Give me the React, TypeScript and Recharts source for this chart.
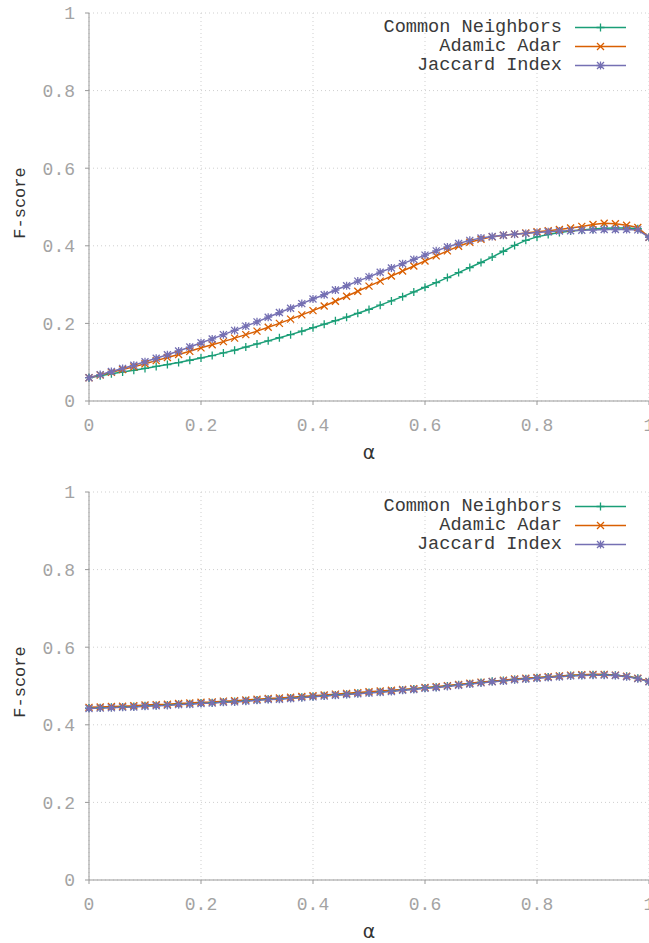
import { LineChart, Line, XAxis, YAxis, CartesianGrid, Legend } from 'recharts'

const ALPHA = [
  0, 0.02, 0.04, 0.06, 0.08, 0.1, 0.12, 0.14, 0.16, 0.18,
  0.2, 0.22, 0.24, 0.26, 0.28, 0.3, 0.32, 0.34, 0.36, 0.38,
  0.4, 0.42, 0.44, 0.46, 0.48, 0.5, 0.52, 0.54, 0.56, 0.58,
  0.6, 0.62, 0.64, 0.66, 0.68, 0.7, 0.72, 0.74, 0.76, 0.78,
  0.8, 0.82, 0.84, 0.86, 0.88, 0.9, 0.92, 0.94, 0.96, 0.98,
  1,
]

const TOP_CN = [
  0.060, 0.065, 0.070, 0.075, 0.079, 0.084, 0.089, 0.094, 0.099, 0.105,
  0.111, 0.117, 0.124, 0.131, 0.139, 0.147, 0.155, 0.163, 0.171, 0.180,
  0.189, 0.198, 0.207, 0.216, 0.226, 0.236, 0.247, 0.258, 0.269, 0.281,
  0.293, 0.305, 0.318, 0.331, 0.344, 0.357, 0.371, 0.386, 0.401, 0.414,
  0.423, 0.429, 0.434, 0.438, 0.441, 0.443, 0.445, 0.446, 0.446, 0.444,
  0.422,
]
const TOP_AA = [
  0.060, 0.067, 0.074, 0.081, 0.088, 0.096, 0.104, 0.112, 0.120, 0.128,
  0.137, 0.145, 0.153, 0.162, 0.171, 0.180, 0.190, 0.200, 0.211, 0.222,
  0.233, 0.245, 0.257, 0.270, 0.283, 0.296, 0.309, 0.322, 0.335, 0.348,
  0.361, 0.374, 0.387, 0.399, 0.409, 0.417, 0.423, 0.427, 0.430, 0.433,
  0.436, 0.439, 0.442, 0.446, 0.450, 0.455, 0.458, 0.457, 0.453, 0.447,
  0.422,
]
const TOP_JI = [
  0.060, 0.068, 0.076, 0.084, 0.092, 0.101, 0.110, 0.119, 0.129, 0.139,
  0.150, 0.160, 0.171, 0.182, 0.193, 0.204, 0.216, 0.228, 0.239, 0.251,
  0.263, 0.274, 0.286, 0.297, 0.309, 0.320, 0.332, 0.343, 0.354, 0.365,
  0.376, 0.387, 0.397, 0.406, 0.414, 0.420, 0.424, 0.427, 0.430, 0.432,
  0.434, 0.436, 0.438, 0.439, 0.440, 0.441, 0.442, 0.442, 0.442, 0.441,
  0.422,
]

const BOT_CN = [
  0.443, 0.444, 0.445, 0.446, 0.447, 0.449, 0.450, 0.451, 0.453, 0.454,
  0.456, 0.457, 0.459, 0.460, 0.462, 0.464, 0.466, 0.467, 0.469, 0.471,
  0.473, 0.475, 0.477, 0.479, 0.481, 0.483, 0.485, 0.487, 0.490, 0.492,
  0.495, 0.497, 0.500, 0.503, 0.506, 0.509, 0.512, 0.514, 0.517, 0.519,
  0.521, 0.523, 0.525, 0.527, 0.528, 0.529, 0.529, 0.528, 0.525, 0.520,
  0.511,
]
const BOT_AA = [
  0.445, 0.446, 0.447, 0.448, 0.449, 0.451, 0.452, 0.453, 0.455, 0.456,
  0.458, 0.459, 0.461, 0.462, 0.464, 0.466, 0.468, 0.469, 0.471, 0.473,
  0.475, 0.477, 0.479, 0.481, 0.483, 0.485, 0.487, 0.489, 0.491, 0.493,
  0.496, 0.498, 0.501, 0.504, 0.507, 0.510, 0.512, 0.515, 0.518, 0.520,
  0.522, 0.524, 0.526, 0.528, 0.529, 0.530, 0.530, 0.528, 0.525, 0.520,
  0.512,
]
const BOT_JI = [
  0.442, 0.443, 0.444, 0.445, 0.446, 0.448, 0.449, 0.450, 0.452, 0.453,
  0.455, 0.456, 0.458, 0.459, 0.461, 0.463, 0.465, 0.466, 0.468, 0.470,
  0.472, 0.474, 0.476, 0.478, 0.480, 0.482, 0.484, 0.486, 0.489, 0.491,
  0.494, 0.496, 0.499, 0.502, 0.505, 0.508, 0.511, 0.513, 0.516, 0.518,
  0.520, 0.522, 0.524, 0.526, 0.527, 0.528, 0.528, 0.527, 0.524, 0.519,
  0.511,
]

const X_TICKS = [0, 0.2, 0.4, 0.6, 0.8, 1]
const Y_TICKS = [0, 0.2, 0.4, 0.6, 0.8, 1]

const SERIES = [
  { key: 'cn', name: 'Common Neighbors', color: '#1b9e77', marker: 'plus' },
  { key: 'aa', name: 'Adamic Adar', color: '#d95f02', marker: 'cross' },
  { key: 'ji', name: 'Jaccard Index', color: '#7570b3', marker: 'star' },
]

const MONO = '"Liberation Mono", "DejaVu Sans Mono", monospace'

function markerPath(kind: string, cx: number, cy: number) {
  const plus = `M${cx - 4},${cy}h8M${cx},${cy - 4}v8`
  const cross = `M${cx - 3.5},${cy - 3.5}l7,7M${cx - 3.5},${cy + 3.5}l7,-7`
  if (kind === 'plus') return plus
  if (kind === 'cross') return cross
  return plus + cross
}

const makeDot = (kind: string, color: string) => (props: any) => {
  const { cx, cy, index } = props
  if (cx == null || cy == null) return <g key={`d-${kind}-${index}`} />
  return (
    <path
      key={`d-${kind}-${index}`}
      d={markerPath(kind, cx, cy)}
      stroke={color}
      strokeWidth={1.3}
      fill="none"
    />
  )
}

function LegendBox() {
  return (
    <div style={{ fontFamily: MONO, fontSize: 18.6, color: '#3a3a3a' }}>
      {SERIES.map((s) => (
        <div
          key={s.key}
          style={{ display: 'flex', justifyContent: 'flex-end', alignItems: 'center', height: 19 }}
        >
          <span style={{ whiteSpace: 'pre', lineHeight: '19px' }}>{s.name}</span>
          <svg width={51} height={19} style={{ marginLeft: 13, display: 'block' }}>
            <line x1={0} y1={9.5} x2={51} y2={9.5} stroke={s.color} strokeWidth={1.5} />
            <path d={markerPath(s.marker, 25.5, 9.5)} stroke={s.color} strokeWidth={1.3} fill="none" />
          </svg>
        </div>
      ))}
    </div>
  )
}

function FLabel(props: any) {
  const vb = props.viewBox || { y: 13, height: 388 }
  const cy = vb.y + vb.height / 2 - 4
  return (
    <text
      x={25}
      y={cy}
      transform={`rotate(-90, 25, ${cy})`}
      textAnchor="middle"
      fill="#333"
      fontSize={17}
      fontFamily={MONO}
    >
      F-score
    </text>
  )
}

function Panel({ cn, aa, ji, top, height, axisH, labelOffset }: {
  cn: number[]; aa: number[]; ji: number[]; top: number; height: number; axisH: number; labelOffset: number
}) {
  const data = ALPHA.map((a, i) => ({ alpha: a, cn: cn[i], aa: aa[i], ji: ji[i] }))
  return (
    <div style={{ position: 'absolute', left: 0, top, width: 649, height }}>
      <LineChart width={649} height={height} data={data} margin={{ top: 13, right: 0, left: 0, bottom: 0 }}>
        <CartesianGrid stroke="#cfcfcf" strokeDasharray="1 3" />
        <XAxis
          dataKey="alpha"
          type="number"
          domain={[0, 1]}
          ticks={X_TICKS}
          height={axisH}
          tickSize={4}
          tickMargin={13}
          stroke="#999"
          interval={0}
          tick={{ fill: '#a3a3a3', fontSize: 18, fontFamily: MONO }}
          label={{ value: 'α', position: 'insideBottom', offset: labelOffset, fill: '#333', fontSize: 19, fontFamily: '"DejaVu Sans", sans-serif' }}
        />
        <YAxis
          type="number"
          domain={[0, 1]}
          ticks={Y_TICKS}
          width={89}
          tickSize={4}
          tickMargin={10}
          stroke="#999"
          tick={{ fill: '#a3a3a3', fontSize: 18, fontFamily: MONO }}
          label={<FLabel />}
        />
        <Legend
          layout="horizontal"
          verticalAlign="middle"
          align="center"
          wrapperStyle={{ top: 18, left: 0, width: 626 }}
          content={() => <LegendBox />}
        />
        {SERIES.map((s) => (
          <Line
            key={s.key}
            type="linear"
            dataKey={s.key}
            name={s.name}
            stroke={s.color}
            strokeWidth={1.5}
            dot={makeDot(s.marker, s.color)}
            activeDot={false}
            isAnimationActive={false}
          />
        ))}
      </LineChart>
    </div>
  )
}

export default function App() {
  return (
    <div style={{ position: 'fixed', left: 0, top: 0, width: 649, height: 943, overflow: 'hidden', background: '#fff' }}>
      <Panel cn={TOP_CN} aa={TOP_AA} ji={TOP_JI} top={0} height={470} axisH={69} labelOffset={11} />
      <Panel cn={BOT_CN} aa={BOT_AA} ji={BOT_JI} top={479} height={464} axisH={63} labelOffset={5} />
    </div>
  )
}
